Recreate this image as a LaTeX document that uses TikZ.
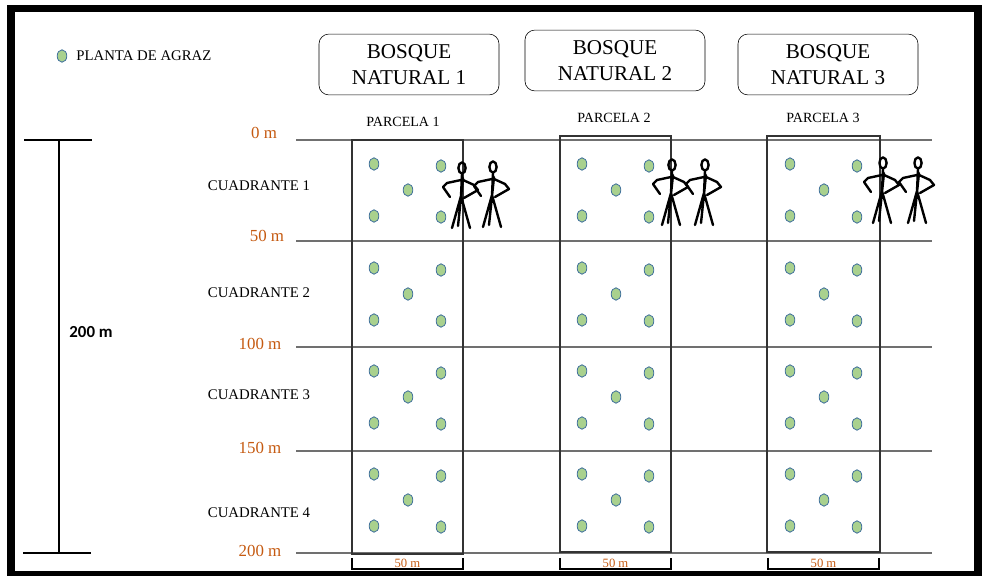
\documentclass[tikz,border=0pt]{standalone}
\usepackage{fontspec}
\setmainfont{Liberation Serif}
\newfontfamily\calibri{Carlito}
\usetikzlibrary{positioning,shapes.geometric}

\definecolor{hoja}{RGB}{169,209,142}
\definecolor{borde}{RGB}{65,113,156}
\definecolor{naranja}{RGB}{197,90,17}
\definecolor{linea}{RGB}{112,112,112}

% stick figure, origin at the centre of the head
\tikzset{persona/.pic={
  \draw[line width=1.7pt,line cap=round,line join=round]
    (0,0) ellipse [x radius=0.09cm,y radius=0.14cm]
    (0,6) -- (-1,28) -- (-10,60)
    (-1,28) -- (8,60)
    (1,10) -- (-4,58)
    (-1,12) -- (-15,15) -- (-19,19) -- (-12,29)
    (1,12) -- (12,17) -- (16,22) -- (2,30);
}}

\begin{document}
\begin{tikzpicture}[x=0.025cm,y=-0.025cm,
  planta/.style={ellipse,draw=borde,fill=hoja,line width=0.6pt,
    minimum width=0.24cm,minimum height=0.31cm,inner sep=0pt},
  bosque/.style={draw,rounded corners=7pt,align=center,
    font=\fontsize{15}{18.5}\selectfont,minimum width=4.5cm,minimum height=1.52cm},
  parcela/.style={font=\fontsize{10}{12}\selectfont},
  cuadrante/.style={font=\fontsize{10.5}{12}\selectfont,anchor=west},
  metro/.style={text=naranja,font=\fontsize{12}{14}\selectfont},
  ancho/.style={text=naranja,font=\fontsize{9}{10}\selectfont,inner sep=1pt},
  guia/.style={draw=linea,line width=0.9pt},
  marco/.style={draw=black!80,line width=0.8pt}]
\useasboundingbox (0,0) rectangle (982,576);

% legend
\node[planta] (leyenda) at (62,56) {};
\node[right=3pt of leyenda,font=\fontsize{10.5}{12}\selectfont] (leyendatxt) {PLANTA DE AGRAZ};

% forests
\node[bosque] (b1) at (409,64.5) {BOSQUE\\NATURAL 1};
\node[bosque] (b2) at (615,60.5) {BOSQUE\\NATURAL 2};
\node[bosque] (b3) at (828,64.5) {BOSQUE\\NATURAL 3};

\node[parcela] (pa1) at (403,122) {PARCELA 1};
\node[parcela] (pa2) at (614,118) {PARCELA 2};
\node[parcela] (pa3) at (823,118) {PARCELA 3};

% distance marks and quadrant lines
\node[metro] (m0) at (264,133) {0 m};
\node[metro] (m50) at (267,236) {50 m};
\node[metro] (m100) at (260,344) {100 m};
\node[metro] (m150) at (260,448) {150 m};
\node[metro] (m200) at (260,551) {200 m};
\foreach \y in {140,241,347,451,553}
  \draw[guia] (296,\y) -- (932,\y);

\node[cuadrante] (c1) at (203,186) {CUADRANTE 1};
\node[cuadrante] (c2) at (203,293) {CUADRANTE 2};
\node[cuadrante] (c3) at (203,395) {CUADRANTE 3};
\node[cuadrante] (c4) at (203,513) {CUADRANTE 4};

% plots
\draw[marco] (352,140) rectangle (463,554);
\draw[marco] (560,136) rectangle (671,552);
\draw[marco] (767,136) rectangle (880,552);

% plants in every quadrant
\foreach \px [count=\i] in {408,616,824}
  \foreach \cy [count=\j] in {190,294,397,500} {
    \node[planta] (p-\i-\j-a) at (\px-34,\cy-26) {};
    \node[planta] (p-\i-\j-b) at (\px+33,\cy-24) {};
    \node[planta] (p-\i-\j-c) at (\px,\cy) {};
    \node[planta] (p-\i-\j-d) at (\px-34,\cy+26) {};
    \node[planta] (p-\i-\j-e) at (\px+33,\cy+27) {};
  }

% people
\pic at (462,168) {persona};
\pic at (493,167) {persona};
\pic at (672,165) {persona};
\pic at (705,165) {persona};
\pic at (883,163) {persona};
\pic at (918,163) {persona};

% plot widths
\foreach \a/\b [count=\i] in {352/463,560/671,768/879} {
  \draw[line width=1pt] (\a,558) -- (\a,569) -- (\b,569) -- (\b,558);
  \node[ancho] (w\i) at ({(\a+\b)/2},563) {50 m};
}

% total length
\coordinate (arriba) at (59,140);
\coordinate (abajo) at (59,553);
\draw[line width=1.4pt] (24,140) -- (92,140) (arriba) -- (abajo) (23,553) -- (91,553);
\node[font=\calibri\bfseries\fontsize{12}{14}\selectfont] (total) at (91,332) {200 m};

% frame
\draw[line width=5pt] (11,8.5) rectangle (978,574.5);
\end{tikzpicture}
\end{document}
